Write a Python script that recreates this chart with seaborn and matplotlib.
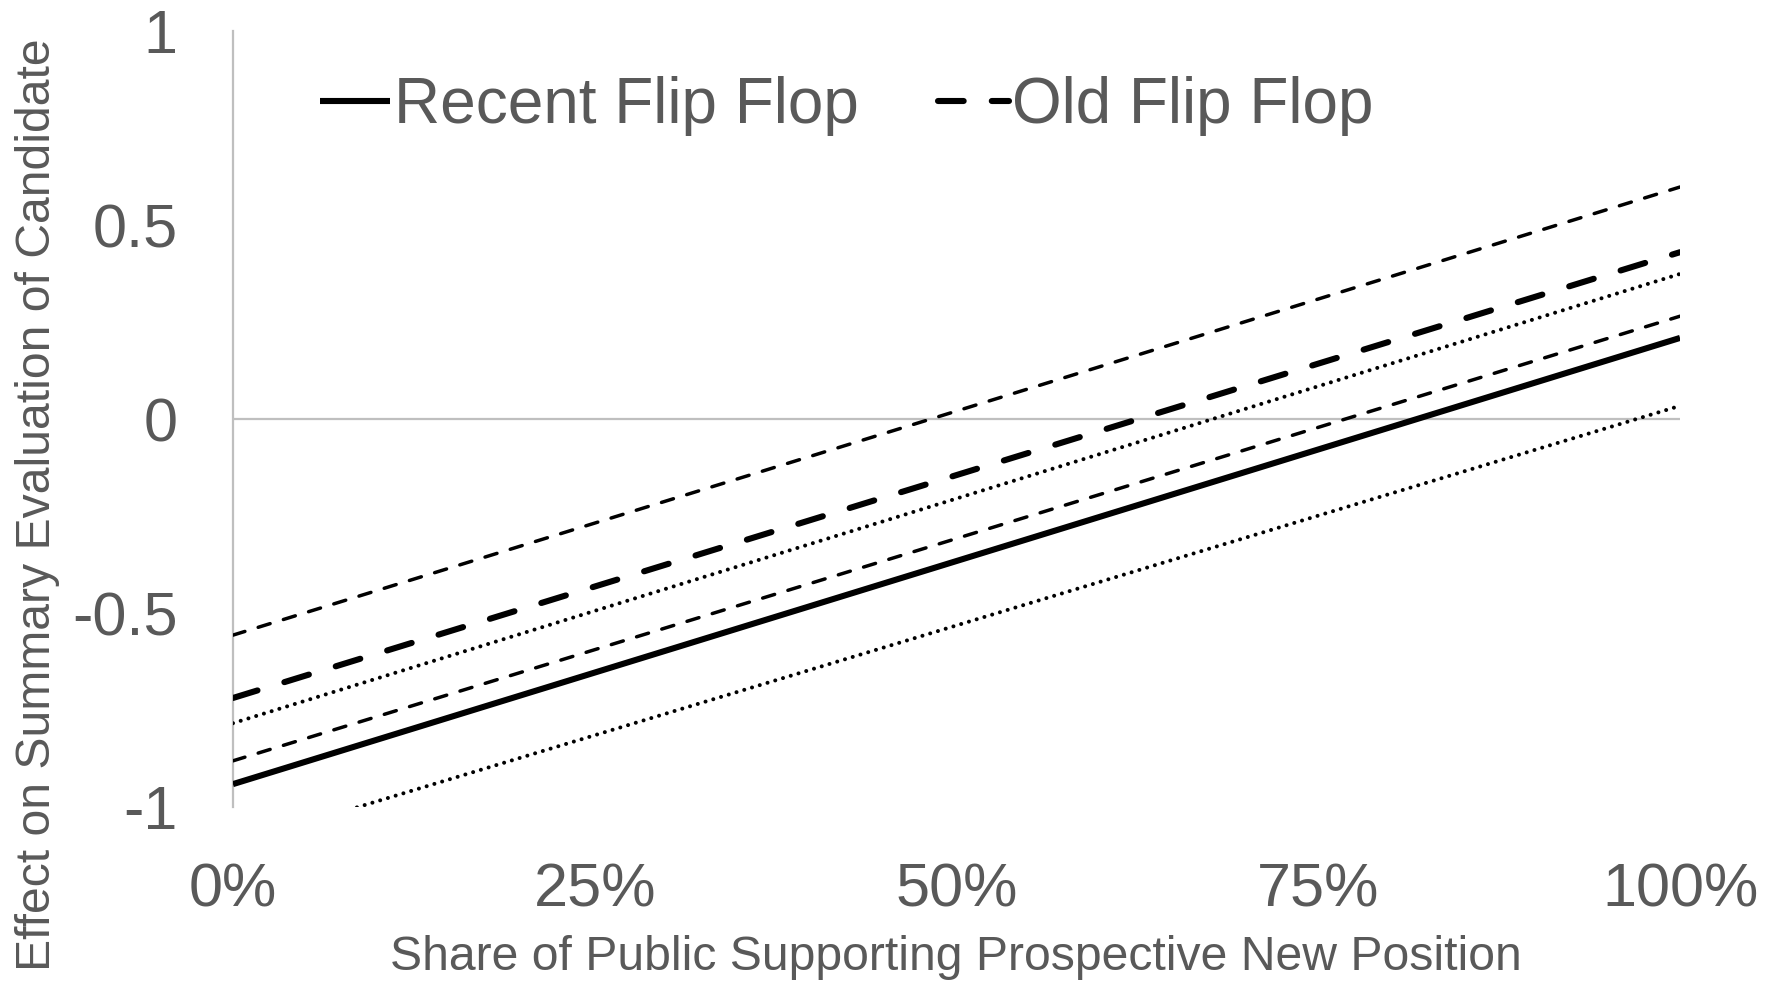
import matplotlib
matplotlib.use("Agg")
import matplotlib.pyplot as plt
import seaborn as sns
import pandas as pd

# Share of public supporting the new position (0 = 0%, 1 = 100%)
share = [0.0, 1.0]

# Estimated effects and 95% bounds
recent = [-0.941, 0.209]
recent_lo = [-1.098, 0.034]
recent_hi = [-0.784, 0.374]
old = [-0.719, 0.430]
old_lo = [-0.881, 0.265]
old_hi = [-0.557, 0.598]

x_ticks = [0.0, 0.25, 0.5, 0.75, 1.0]
x_ticklabels = ["0%", "25%", "50%", "75%", "100%"]
y_ticks = [-1, -0.5, 0, 0.5, 1]
y_ticklabels = ["-1", "-0.5", "0", "0.5", "1"]

sns.set_style("white")
plt.rcParams["font.family"] = ["Liberation Sans", "DejaVu Sans"]

GREY = "#595959"
AXIS_GREY = "#bfbfbf"

fig = plt.figure(figsize=(17.81, 9.82), dpi=100)
ax = fig.add_axes([0.1308, 0.1782, 0.8125, 0.7902])

df = pd.DataFrame({"share": share * 6,
                   "effect": recent + recent_lo + recent_hi + old + old_lo + old_hi,
                   "series": sum([[s] * 2 for s in
                                  ["recent", "recent_lo", "recent_hi", "old", "old_lo", "old_hi"]], [])})

styles = {
    "recent":    dict(lw=4.4, ls="-", label="Recent Flip Flop"),
    "recent_lo": dict(lw=2.9, ls=(0, (0.01, 2.0)), label="_nolegend_"),
    "recent_hi": dict(lw=2.9, ls=(0, (0.01, 2.0)), label="_nolegend_"),
    "old":       dict(lw=4.4, ls=(0, (4.2, 4.6)), label="Old Flip Flop"),
    "old_lo":    dict(lw=2.5, ls=(0, (3.6, 4.0)), label="_nolegend_"),
    "old_hi":    dict(lw=2.5, ls=(0, (3.6, 4.0)), label="_nolegend_"),
}

# reference line at zero
ax.axhline(0, color=AXIS_GREY, lw=1.6, zorder=1)

handles = {}
for name in ["old_hi", "old", "recent_hi", "recent_lo", "old_lo", "recent"]:
    st = styles[name]
    sub = df[df["series"] == name]
    n_before = len(ax.lines)
    sns.lineplot(data=sub, x="share", y="effect", ax=ax, color="black",
                 linewidth=st["lw"], linestyle=st["ls"], label=st["label"],
                 legend=False, zorder=3)
    line = ax.lines[n_before]
    line.set_dash_capstyle("round")
    line.set_solid_capstyle("butt")
    handles[name] = line

ax.set_xlim(0, 1)
ax.set_ylim(-1, 1)
ax.set_xticks(x_ticks)
ax.set_xticklabels(x_ticklabels)
ax.set_yticks(y_ticks)
ax.set_yticklabels(y_ticklabels)
ax.tick_params(axis="both", length=0, labelsize=44, labelcolor=GREY)
ax.tick_params(axis="x", pad=40)
ax.tick_params(axis="y", pad=40)

for side in ["top", "right", "bottom"]:
    ax.spines[side].set_visible(False)
ax.spines["left"].set_color(AXIS_GREY)
ax.spines["left"].set_linewidth(1.6)

ax.set_xlabel("")
ax.set_ylabel("")
fig.text(0.5365, 0.025, "Share of Public Supporting Prospective New Position",
         ha="center", va="center", fontsize=34.7, color=GREY)
fig.text(0.021, 0.486, "Effect on Summary Evaluation of Candidate",
         ha="center", va="center", rotation=90, fontsize=34.7, color=GREY)

leg = ax.legend([handles["recent"], handles["old"]],
                ["Recent Flip Flop", "Old Flip Flop"],
                ncol=2, frameon=False, fontsize=46,
                loc="upper left", bbox_to_anchor=(0.0205, 1.016),
                handlelength=1.1, handletextpad=0.05, columnspacing=1.25)
for t in leg.get_texts():
    t.set_color(GREY)

fig.savefig("out.png", dpi=100)
